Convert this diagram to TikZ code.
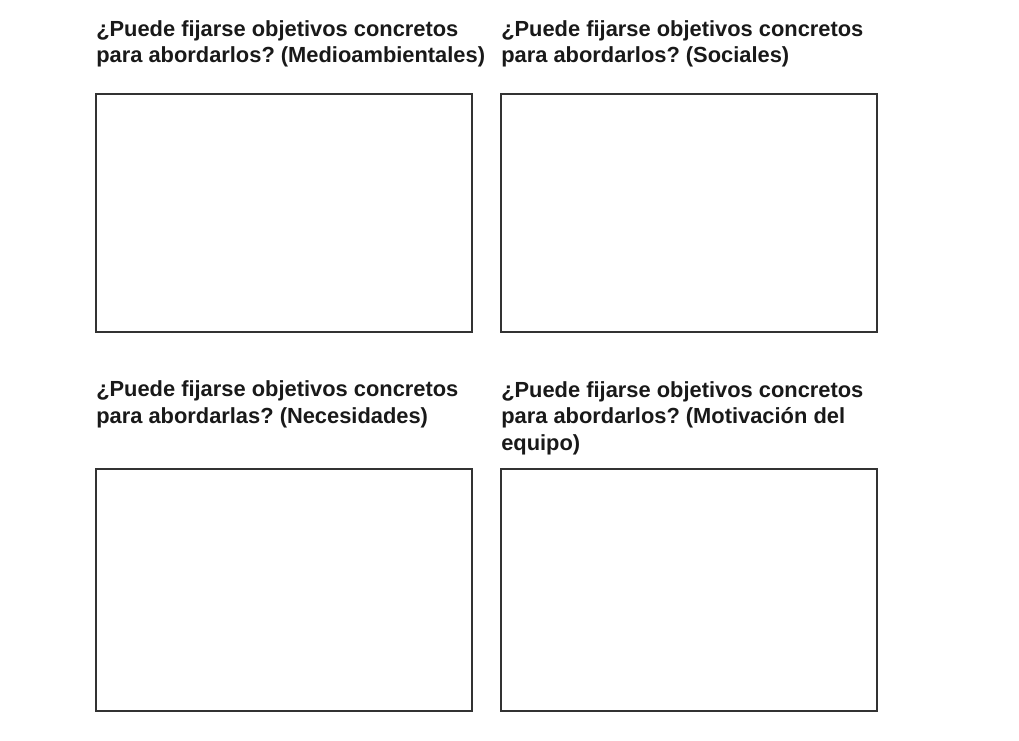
\documentclass[tikz,border=0pt]{standalone}
\usepackage{fontspec}
\setmainfont{Liberation Sans}
\frenchspacing
\begin{document}
\begin{tikzpicture}[x=0.75pt,y=-0.75pt,
  lbl/.style={anchor=base west,inner sep=0pt,align=left,text=black!90,
    font=\fontsize{16.4pt}{19.6pt}\selectfont\bfseries},
  panel/.style={draw=black!80,line width=1.2pt,fill=white}]
\useasboundingbox (0,0) rectangle (1019,741);
\node[lbl] (t1) at (96,63) {¿Puede fijarse objetivos concretos\\para abordarlos? (Medioambientales)};
\node[lbl] (t2) at (501,63) {¿Puede fijarse objetivos concretos\\para abordarlos? (Sociales)};
\node[lbl] (t3) at (96,423) {¿Puede fijarse objetivos concretos\\para abordarlas? (Necesidades)};
\node[lbl] (t4) at (501,450) {¿Puede fijarse objetivos concretos\\para abordarlos? (Motivación del\\equipo)};
\draw[panel] (96,94) rectangle (472,332) node[pos=0.5,inner sep=0] (b1) {};
\draw[panel] (501,94) rectangle (877,332) node[pos=0.5,inner sep=0] (b2) {};
\draw[panel] (96,469) rectangle (472,711) node[pos=0.5,inner sep=0] (b3) {};
\draw[panel] (501,469) rectangle (877,711) node[pos=0.5,inner sep=0] (b4) {};
\end{tikzpicture}
\end{document}
